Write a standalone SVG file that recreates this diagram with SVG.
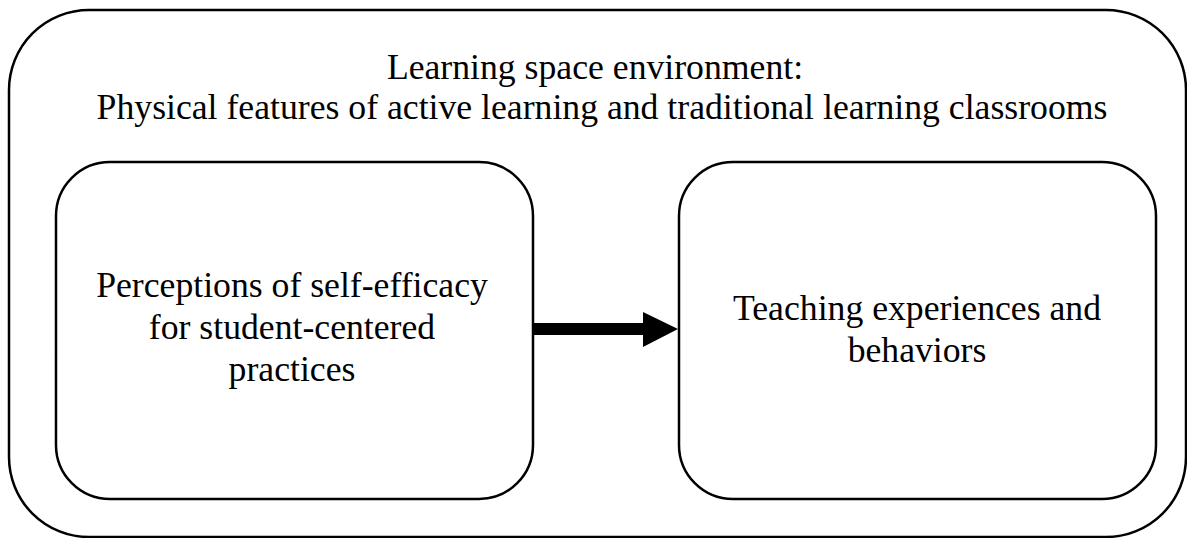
<svg xmlns="http://www.w3.org/2000/svg" width="1187" height="538" viewBox="0 0 1187 538">
<style>
.box{fill:#fff;stroke:#000;stroke-width:2.5}
.t{font-family:"Liberation Serif","Times New Roman",serif;font-size:35.7px;fill:#000;text-anchor:middle}
</style>
<rect width="1187" height="538" fill="#fff"/>
<g id="environment">
<rect class="box" x="9" y="10" width="1177" height="527" rx="80" ry="80"/>
<text class="t" x="595" y="79">Learning space environment:</text>
<text class="t" x="602" y="119">Physical features of active learning and traditional learning classrooms</text>
</g>
<g id="self-efficacy">
<rect class="box" x="56" y="162" width="477" height="337" rx="54" ry="54"/>
<text class="t" x="292" y="297">Perceptions of self-efficacy</text>
<text class="t" x="292" y="339">for student-centered</text>
<text class="t" x="292" y="381">practices</text>
</g>
<g id="teaching">
<rect class="box" x="679" y="162" width="477" height="337" rx="54" ry="54"/>
<text class="t" x="917" y="320">Teaching experiences and</text>
<text class="t" x="917" y="362">behaviors</text>
</g>
<g id="connectors">
<polygon points="533,323 643,323 643,312 678,329 643,347 643,335 533,335" fill="#000"/>
</g>
</svg>
